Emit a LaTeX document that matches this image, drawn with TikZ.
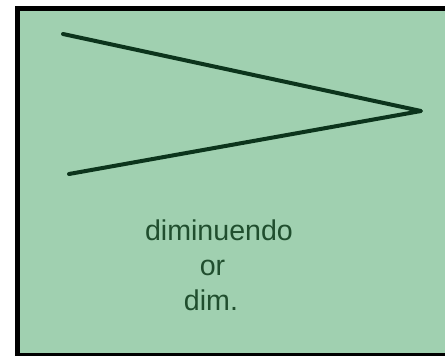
\documentclass[tikz,border=0pt]{standalone}
\usepackage{fontspec}
\setmainfont{Liberation Sans}
\definecolor{panelgreen}{RGB}{160,208,176}
\definecolor{hairpin}{RGB}{12,52,28}
\definecolor{labelgreen}{RGB}{32,78,46}
\tikzset{
  panel/.style={fill=panelgreen, draw=black, line width=5pt},
  wedge/.style={draw=hairpin, line width=4pt, line join=round, line cap=round},
  lbl/.style={anchor=base, inner sep=0pt, text=labelgreen, font=\fontsize{28.6}{35}\selectfont}
}
\begin{document}
\begin{tikzpicture}[x=1pt,y=-1pt]
\useasboundingbox (0,0) rectangle (445,356);
\draw[panel] (17.5,8.5) rectangle (452,355);
\coordinate (top) at (63,34);
\coordinate (tip) at (421,111);
\coordinate (bot) at (69,174);
\draw[wedge] (top) -- (tip) -- (bot);
\node[lbl] (t1) at (219,240) {diminuendo};
\node[lbl] (t2) at (212.5,275) {or};
\node[lbl] (t3) at (211,310) {dim.};
\end{tikzpicture}
\end{document}
